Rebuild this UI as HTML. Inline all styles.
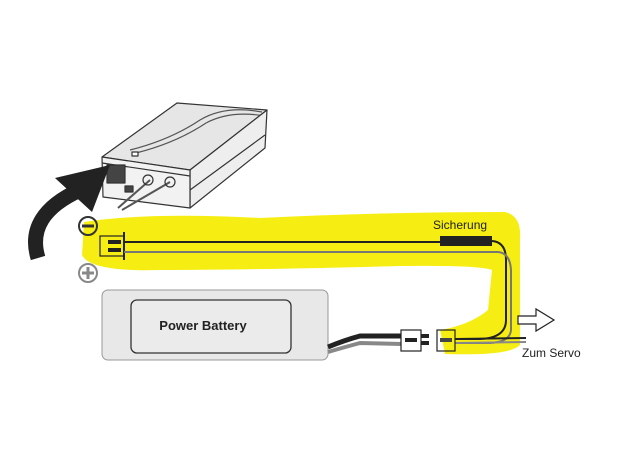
<!DOCTYPE html>
<html><head><meta charset="utf-8"><style>html,body{margin:0;padding:0;background:#fff}svg{display:block}</style></head>
<body>
<svg width="624" height="468" viewBox="0 0 624 468" xmlns="http://www.w3.org/2000/svg" font-family="Liberation Sans, sans-serif">
<!-- yellow highlight -->
<path d="M84,222 Q150,212 260,218 Q380,212 505,212 Q522,216 520,240 L520,345 Q510,356 445,354 L440,330 Q470,325 488,310 L492,270 Q480,265 400,266 Q250,270 160,270 Q90,272 82,255 Z" fill="#f6ee13"/>
<!-- device box -->
<g stroke="#333" stroke-width="1.2" stroke-linejoin="round">
<path d="M102,157 L177,103 L267,110 L190,170 Z" fill="#e6e6e6"/>
<path d="M130,150 Q170,140 200,120 Q225,105 262,112" fill="none" stroke="#555"/>
<path d="M136,153 Q176,143 206,123 Q230,110 265,116" fill="none" stroke="#555"/>
<path d="M190,170 L267,110 L265,148 L190,208 Z" fill="#eee"/>
<path d="M102,157 L190,170 L190,208 L103,197 Z" fill="#f2f2f2"/>
<path d="M102,163 L190,176" fill="none"/>
<path d="M190,190 L265,135" fill="none"/>
<rect x="107" y="165" width="18" height="18" fill="#444"/>
<rect x="125" y="186" width="8" height="6" fill="#444"/>
<rect x="132" y="152" width="6" height="4" fill="#fff"/>
<path d="M118,208 L150,180 M122,210 L170,182" fill="none" stroke="#555" stroke-width="2"/>
<circle cx="148" cy="180" r="5" fill="none"/>
<circle cx="170" cy="182" r="5" fill="none"/>
</g>
<!-- curved arrow -->
<path d="M38,258 Q25,215 80,190" fill="none" stroke="#222" stroke-width="15"/>
<polygon points="55,178 110,165 92,212" fill="#222"/>
<!-- minus / plus -->
<circle cx="88" cy="226" r="9" fill="none" stroke="#333" stroke-width="2"/>
<rect x="82" y="224.5" width="12" height="3" fill="#333"/>
<circle cx="88" cy="273" r="9" fill="none" stroke="#888" stroke-width="2"/>
<rect x="82" y="271.5" width="12" height="3" fill="#888"/><rect x="86.5" y="267" width="3" height="12" fill="#888"/>
<!-- left connector -->
<rect x="100" y="236" width="24" height="20" fill="none" stroke="#222" stroke-width="1.2"/>
<line x1="124" y1="232" x2="124" y2="260" stroke="#222" stroke-width="2"/>
<rect x="108" y="240" width="13" height="4" fill="#222"/><rect x="108" y="248" width="13" height="4" fill="#222"/>
<!-- wires -->
<path d="M124,242 L440,242" stroke="#222" stroke-width="2" fill="none"/>
<rect x="440" y="236" width="52" height="10" fill="#222"/>
<path d="M492,241 Q506,242 506,260 L506,320 Q506,338 480,339 L455,339" stroke="#222" stroke-width="2" fill="none"/>
<path d="M124,252 L498,252 Q510,253 511,270 L511,330 Q510,342 490,343 L455,343" stroke="#777" stroke-width="2" fill="none"/>
<path d="M455,339 L526,338" stroke="#222" stroke-width="2"/>
<path d="M455,343 L526,342" stroke="#888" stroke-width="2"/>
<!-- battery -->
<rect x="102" y="290" width="226" height="70" rx="6" fill="#e8e8e8" stroke="#999"/>
<rect x="131" y="300" width="160" height="53" rx="6" fill="#ebebeb" stroke="#333" stroke-width="1.3"/>
<text x="203" y="330" text-anchor="middle" font-size="13" font-weight="bold" fill="#222">Power Battery</text>
<!-- battery cables -->
<path d="M328,347 Q345,340 360,336 L402,336" stroke="#222" stroke-width="5" fill="none"/>
<path d="M328,352 Q345,347 360,343 L402,344" stroke="#888" stroke-width="4" fill="none"/>
<rect x="401" y="330" width="20" height="21" fill="#fff" stroke="#222" stroke-width="1.2"/>
<rect x="405" y="338" width="12" height="4" fill="#222"/>
<rect x="421" y="334" width="8" height="4" fill="#222"/><rect x="421" y="341" width="8" height="4" fill="#222"/>
<rect x="437" y="330" width="18" height="21" fill="none" stroke="#222" stroke-width="1.2"/>
<rect x="440" y="338" width="12" height="4" fill="#444"/>
<!-- servo arrow -->
<polygon points="518,316 536,316 536,309 554,320 536,331 536,324 518,324" fill="#fff" stroke="#222" stroke-width="1.2"/>
<text x="522" y="357" font-size="12" fill="#222">Zum Servo</text>
<text x="433" y="229" font-size="12" fill="#222">Sicherung</text>
</svg>
</body></html>
